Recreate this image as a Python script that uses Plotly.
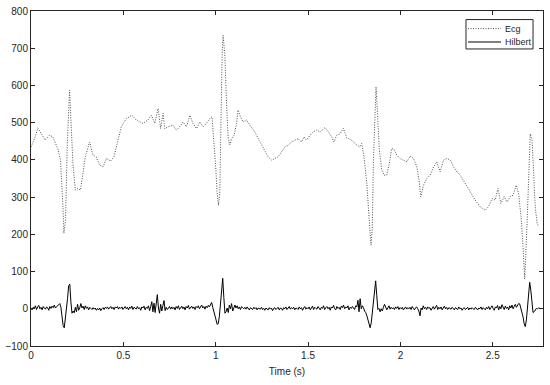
import numpy as np
import plotly.graph_objects as go

# Ecg trace (time in s, amplitude)
t_ecg = [0.000, 0.020, 0.037, 0.055, 0.077, 0.100, 0.118, 0.145, 0.160, 0.173,
         0.178, 0.187, 0.196, 0.209, 0.218, 0.227, 0.240, 0.254, 0.268, 0.281,
         0.294, 0.317, 0.335, 0.353, 0.371, 0.390, 0.408, 0.431, 0.449, 0.471,
         0.489, 0.516, 0.547, 0.570, 0.606, 0.633, 0.652, 0.670, 0.688, 0.702,
         0.715, 0.724, 0.742, 0.769, 0.787, 0.805, 0.823, 0.842, 0.860, 0.877,
         0.896, 0.914, 0.932, 0.950, 0.968, 0.980, 0.991, 1.000, 1.008, 1.015,
         1.022, 1.028, 1.035, 1.040, 1.049, 1.059, 1.067, 1.076, 1.086, 1.100,
         1.113, 1.121, 1.134, 1.149, 1.167, 1.185, 1.212, 1.230, 1.248, 1.266,
         1.284, 1.303, 1.320, 1.338, 1.357, 1.375, 1.393, 1.411, 1.429, 1.447,
         1.465, 1.478, 1.492, 1.510, 1.528, 1.547, 1.565, 1.592, 1.610, 1.628,
         1.640, 1.655, 1.673, 1.691, 1.709, 1.736, 1.764, 1.781, 1.790, 1.803,
         1.818, 1.826, 1.836, 1.841, 1.848, 1.854, 1.863, 1.868, 1.875, 1.886,
         1.899, 1.912, 1.926, 1.940, 1.953, 1.966, 1.980, 1.998, 2.016, 2.035,
         2.053, 2.071, 2.089, 2.101, 2.110, 2.125, 2.143, 2.161, 2.179, 2.197,
         2.215, 2.233, 2.252, 2.270, 2.288, 2.306, 2.324, 2.351, 2.378, 2.405,
         2.432, 2.459, 2.477, 2.496, 2.513, 2.528, 2.544, 2.562, 2.577, 2.595,
         2.610, 2.627, 2.640, 2.653, 2.664, 2.673, 2.685, 2.694, 2.703, 2.713,
         2.721, 2.730, 2.740, 2.748]
ecg = [435, 458, 486, 471, 453, 466, 462, 430, 399, 274,
       203, 238, 435, 587, 480, 390, 319, 323, 319, 364,
       408, 448, 413, 408, 386, 381, 404, 397, 408, 453,
       489, 511, 520, 507, 498, 507, 520, 498, 538, 484,
       525, 484, 489, 493, 480, 489, 502, 489, 520, 498,
       484, 502, 489, 498, 511, 516, 453, 381, 310, 278,
       310, 507, 686, 735, 686, 551, 462, 440, 457, 466,
       498, 534, 516, 502, 507, 493, 475, 457, 440, 422,
       408, 399, 404, 408, 422, 435, 440, 448, 453, 457,
       448, 462, 453, 466, 475, 480, 475, 487, 475, 462,
       448, 466, 470, 485, 460, 453, 440, 435, 444, 408,
       337, 265, 203, 171, 220, 399, 560, 596, 534, 426,
       373, 359, 359, 390, 431, 428, 413, 404, 399, 395,
       410, 404, 381, 346, 301, 332, 350, 359, 381, 395,
       368, 399, 404, 399, 381, 368, 359, 337, 314, 292,
       274, 265, 274, 296, 292, 323, 283, 301, 287, 301,
       305, 332, 310, 247, 167, 80, 220, 354, 470, 453,
       354, 274, 229, 222]

# Hilbert trace, sampled every 0.006 s
dt_hil = 0.006
hil = [2, -3, 4, 1, 8, -2, 5, 9, 0, 4,
       -3, 6, 2, -1, 5, 3, -4, 6, 1, 7,
       3, 10, 2, 5, 8, 12, 14, 4, -15, -45,
       -51, -28, 0, 28, 62, 66, 18, -12, -6, -11,
       4, -8, 12, -4, 3, 14, 2, 7, -2, 8,
       1, 5, -3, 4, 1, -2, 3, -1, 2, -4,
       1, -3, 2, -5, 0, 3, -2, 4, 1, 5,
       -1, 3, 6, 0, 4, -2, 5, 2, 6, -1,
       4, 1, 5, -2, 3, 6, 0, 4, -3, 5,
       1, 7, -2, 4, 2, -1, 6, 0, 3, -4,
       5, 2, 7, -3, 4, 1, 8, -5, 6, 19,
       -8, 15, -10, 20, 38, 2, -12, 12, -6, 8,
       22, -5, 4, -2, 3, 6, -1, 5, 0, 4,
       -3, 6, 1, 8, -2, 4, 7, 0, 5, -3,
       6, 2, 9, -1, 4, 7, 1, 5, -2, 6,
       3, 8, 0, 5, 10, 2, 6, -1, 7, 3,
       9, 5, 12, 17, 4, -10, -18, -30, -42, -40,
       -20, 20, 68, 82, 30, -12, -8, 2, -10, 10,
       0, 14, -6, 5, 10, 2, 8, 0, 5, -2,
       6, 3, 0, 4, -1, 5, 2, -3, 3, 1,
       -2, 4, 0, 3, -3, 2, 1, -1, 4, -2,
       1, -4, 2, 0, -3, 3, -1, 2, -5, 1,
       3, -2, 0, 4, -3, 2, 1, -4, 3, 0,
       5, -2, 2, 6, -1, 3, 0, 4, -3, 2,
       1, -2, 5, 0, 3, -4, 2, 6, -1, 3,
       0, 5, -3, 2, 7, -2, 4, 1, -1, 6,
       2, -3, 4, 1, 8, -2, 3, 6, 0, 4,
       -4, 5, 2, 9, 0, -3, 6, 1, 4, -2,
       7, 3, 10, 0, 5, 2, 8, -3, 4, 1,
       6, 2, -2, 8, 5, 23, -8, 27, 0, 8,
       3, -6, -10, -18, -30, -42, -51, -38, -5, 30,
       62, 75, 35, -2, 1, -8, 0, -6, 4, 12,
       5, -3, 2, 8, -1, 4, 0, 3, -2, 5,
       1, 6, -2, 3, 0, 4, -3, 2, 5, -1,
       3, 0, 4, -2, 6, 1, -3, 3, 5, 0,
       -6, -19, 2, -3, 8, 0, 4, -2, 5, 1,
       3, -4, 2, 6, -1, 3, 9, -2, 4, 0,
       5, -3, 2, 7, 0, 4, -2, 3, 1, -1,
       4, 0, -3, 3, 1, -2, 5, 0, 2, -4,
       1, 3, -2, 0, 4, -3, 2, -1, 3, 0,
       -2, 4, 1, -3, 2, 0, 5, -2, 3, 1,
       -3, 4, 0, 6, -2, 3, 8, 1, -4, 5,
       2, 9, -3, 6, 0, 11, 3, -2, 7, 1,
       5, -3, 8, 2, 10, 0, 6, 12, 4, 9,
       14, 13, 2, -8, -22, -40, -48, -30, 5, 40,
       71, 50, 5, -10, -8, -2, 1, 0, 2, 1,
       0]
t_hil = np.arange(len(hil)) * dt_hil

x_ticks = [0, 0.5, 1, 1.5, 2, 2.5]
y_ticks = [-100, 0, 100, 200, 300, 400, 500, 600, 700, 800]
legend_names = ["Ecg", "Hilbert"]

ecg_line = dict(color="#505050", width=1, dash="1px,1.5px")
hil_line = dict(color="black", width=1)

fig = go.Figure()
fig.add_trace(go.Scatter(x=t_ecg, y=ecg, mode="lines", name="Ecg", line=ecg_line))
fig.add_trace(go.Scatter(x=t_hil, y=hil, mode="lines", name="Hilbert", line=hil_line))

# compact MATLAB-style legend box (plotly's own legend rows are too tall)
fig.add_shape(type="rect", xref="paper", yref="paper", x0=0.8496, x1=0.9805,
              y0=0.8867, y1=0.9744, line=dict(color="#262626", width=1), fillcolor="white")
for name, ly, ln in zip(legend_names, [0.9475, 0.9075], [ecg_line, hil_line]):
    fig.add_shape(type="line", xref="paper", yref="paper", x0=0.8535, x1=0.918,
                  y0=ly, y1=ly, line=ln)
    fig.add_annotation(x=0.921, y=ly, xref="paper", yref="paper", text=name,
                       showarrow=False, xanchor="left", yanchor="middle",
                       font=dict(size=9, color="#262626"))

axis_style = dict(showgrid=False, zeroline=False, showline=True, linecolor="#262626",
                  linewidth=1, mirror="allticks", ticks="inside", ticklen=4,
                  tickcolor="#262626", tickfont=dict(size=10, color="#262626"),
                  automargin=False)

fig.update_layout(
    width=550, height=385,
    margin=dict(l=31, r=7, t=11, b=39),
    paper_bgcolor="white", plot_bgcolor="white",
    font=dict(family="Liberation Sans, Arial", size=10, color="#262626"),
    showlegend=False,
)
fig.update_xaxes(range=[0, 2.772], tickvals=x_ticks, ticktext=["0", "0.5", "1", "1.5", "2", "2.5"],
                 title=dict(text="Time (s)", font=dict(size=10), standoff=7), **axis_style)
fig.update_yaxes(range=[-100, 800], tickvals=y_ticks, **axis_style)

# drop the page's default 8px body margin so the figure sits at the window corner
fig.write_html("out.html", config={"displayModeBar": False},
               post_script="document.body.style.margin='0px';")
